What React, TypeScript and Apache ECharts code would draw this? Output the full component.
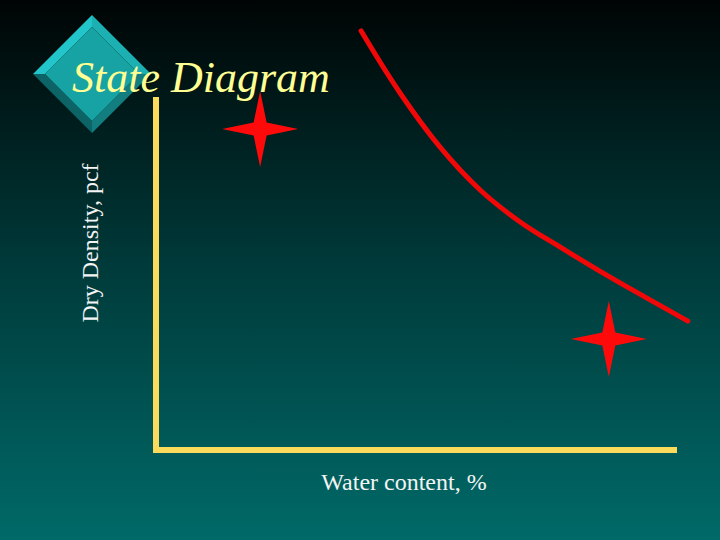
import React, { useEffect, useRef } from "react";
import * as echarts from "echarts";

// Saturation (zero air voids) curve: water content vs dry density (relative units, 0-100)
const curveWater = [38.4, 45.7, 53.2, 60.7, 68.2, 75.7, 83.1, 91.6, 99.6];
const curveDensity = [99.8, 85.0, 72.1, 61.9, 54.3, 48.3, 42.6, 36.4, 30.7];

// State points (stars)
const stateWater = [19.5, 84.8];
const stateDensity = [76.4, 26.4];

const titleText = "State Diagram";
const xAxisTitle = "Water content, %";
const yAxisTitle = "Dry Density, pcf";

const STAR =
  "path://M0,-38 L6.5,-6.5 L38,0 L6.5,6.5 L0,38 L-6.5,6.5 L-38,0 L-6.5,-6.5 Z";

export default function App() {
  const ref = useRef<HTMLDivElement>(null);

  useEffect(() => {
    if (!ref.current) return;
    const chart = echarts.init(ref.current, undefined, { renderer: "svg" });

    const curve = curveWater.map((w, i) => [w, curveDensity[i]]);
    const states = stateWater.map((w, i) => [w, stateDensity[i]]);

    const frameLine = {
      show: true,
      onZero: true,
      lineStyle: { color: "#fadb5c", width: 6, cap: "square" as const },
    };
    const hidden = {
      axisTick: { show: false },
      axisLabel: { show: false },
      splitLine: { show: false },
    };

    const oT = [92, 15], oR = [151, 74], oB = [92, 133], oL = [33, 74];
    const iT = [92, 27], iR = [139, 74], iB = [92, 121], iL = [45, 74];

    chart.setOption({
      animation: false,
      backgroundColor: {
        type: "linear",
        x: 0,
        y: 0,
        x2: 0,
        y2: 1,
        colorStops: [
          { offset: 0, color: "#000404" },
          { offset: 0.5, color: "#003b3b" },
          { offset: 1, color: "#006a68" },
        ],
      },
      title: {
        text: titleText,
        left: 72,
        top: 55,
        padding: 0,
        textStyle: {
          fontFamily: "Liberation Serif",
          fontStyle: "italic",
          fontWeight: "normal",
          fontSize: 44,
          color: "#ffff94",
          textShadowColor: "rgba(0,0,0,0.9)",
          textShadowOffsetX: 2,
          textShadowOffsetY: 2,
          textShadowBlur: 0,
        },
        z: 10,
      },
      grid: [
        { left: 156, right: 46, top: 100, bottom: 90 },
        { left: 156, right: 30, top: 30, bottom: 90 },
      ],
      xAxis: [
        { type: "value", gridIndex: 0, min: 0, max: 100, axisLine: frameLine, ...hidden },
        { type: "value", gridIndex: 1, min: 0, max: 100, axisLine: { show: false }, ...hidden },
      ],
      yAxis: [
        { type: "value", gridIndex: 0, min: 0, max: 100, axisLine: frameLine, ...hidden },
        { type: "value", gridIndex: 1, min: 0, max: 100, axisLine: { show: false }, ...hidden },
      ],
      graphic: [
        {
          type: "group",
          z: 1,
          children: [
            { type: "polygon", shape: { points: [oT, oL, iL, iT] }, style: { fill: "#22c6ca" } },
            { type: "polygon", shape: { points: [oT, oR, iR, iT] }, style: { fill: "#1cb0b2" } },
            { type: "polygon", shape: { points: [oR, oB, iB, iR] }, style: { fill: "#127e80" } },
            { type: "polygon", shape: { points: [oB, oL, iL, iB] }, style: { fill: "#0d6466" } },
            { type: "polygon", shape: { points: [iT, iR, iB, iL] }, style: { fill: "#17a2a4" } },
          ],
        },
        {
          type: "text",
          x: 90,
          y: 243,
          rotation: Math.PI / 2,
          style: {
            text: yAxisTitle,
            fontFamily: "Liberation Serif",
            fontSize: 24,
            fill: "#f4f4f4",
            align: "center",
            verticalAlign: "middle",
          },
        },
        {
          type: "text",
          x: 404,
          y: 482,
          style: {
            text: xAxisTitle,
            fontFamily: "Liberation Serif",
            fontSize: 24,
            fill: "#f4f4f4",
            align: "center",
            verticalAlign: "middle",
          },
        },
      ],
      series: [
        {
          type: "line",
          xAxisIndex: 1,
          yAxisIndex: 1,
          data: curve,
          smooth: 0.4,
          clip: false,
          showSymbol: false,
          symbol: "none",
          lineStyle: { color: "#f00808", width: 5, cap: "round" },
          z: 3,
        },
        {
          type: "scatter",
          xAxisIndex: 1,
          yAxisIndex: 1,
          data: states,
          clip: false,
          symbol: STAR,
          symbolSize: 76,
          itemStyle: { color: "#ff0a0a", opacity: 1 },
          z: 4,
        },
      ],
    });

    return () => chart.dispose();
  }, []);

  return (
    <div
      ref={ref}
      style={{ position: "absolute", left: 0, top: 0, width: 720, height: 540 }}
    />
  );
}
